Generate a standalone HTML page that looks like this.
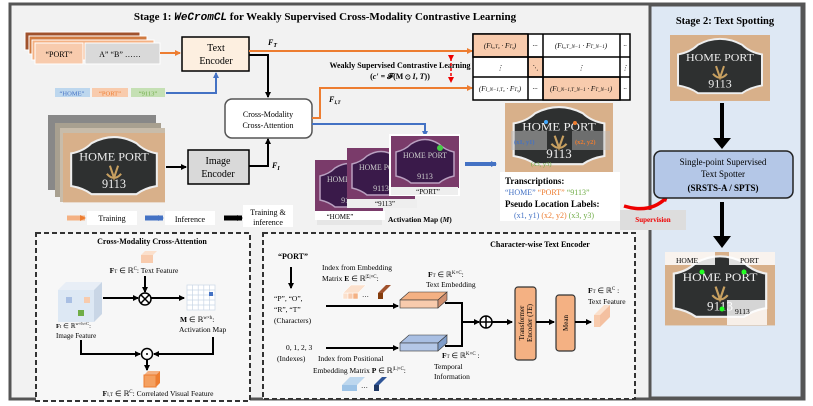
<!DOCTYPE html>
<html><head><meta charset="utf-8"><style>
html,body{margin:0;padding:0;background:#fff}
svg{display:block}
text{font-family:"Liberation Serif",serif}
</style></head><body>
<svg width="813" height="406" viewBox="0 0 813 406" xmlns="http://www.w3.org/2000/svg">
<defs>
<marker id="ab" markerWidth="6" markerHeight="6" refX="5" refY="3" orient="auto" markerUnits="userSpaceOnUse"><path d="M0,0L6,3L0,6z" fill="#000"/></marker>
<marker id="ao" markerWidth="6" markerHeight="6" refX="5" refY="3" orient="auto" markerUnits="userSpaceOnUse"><path d="M0,0L6,3L0,6z" fill="#ed7d31"/></marker>
<marker id="abl" markerWidth="6" markerHeight="6" refX="5" refY="3" orient="auto" markerUnits="userSpaceOnUse"><path d="M0,0L6,3L0,6z" fill="#4472c4"/></marker>
<marker id="ar" markerWidth="6" markerHeight="6" refX="3" refY="3" orient="auto" markerUnits="userSpaceOnUse"><path d="M0,0L6,3L0,6z" fill="#e00"/></marker>
<g id="sign">
<rect x="0" y="0" width="100" height="68" fill="#d8b08a"/>
<path d="M8,20 Q20,18 28,10 Q50,-2 72,10 Q80,18 92,20 L92,52 Q80,54 72,60 L28,60 Q20,54 8,52 Z" fill="#2e3030" stroke="#eee" stroke-width="2"/>
<text x="50" y="27" font-size="11" fill="#eee" text-anchor="middle" textLength="68" lengthAdjust="spacingAndGlyphs" font-family="Liberation Sans">HOME PORT</text>
<text x="50" y="54" font-size="12" fill="#eee" text-anchor="middle" font-family="Liberation Sans">9113</text>
<path d="M46,32 L50,44 L54,32 M43,40 Q50,48 57,40" stroke="#c8a060" stroke-width="2" fill="none"/>
</g>
<g id="amap">
<rect x="0" y="0" width="68" height="52" fill="#7a3b6a"/>
<path d="M5,16 Q14,14 20,8 Q34,-1 48,8 Q54,14 63,16 L63,40 Q54,42 48,47 L20,47 Q14,42 5,40 Z" fill="#3a1a4a" stroke="#b9a0c0" stroke-width="1.5"/>
<text x="34" y="22" font-size="8" fill="#ccc" text-anchor="middle" textLength="44" lengthAdjust="spacingAndGlyphs" font-family="Liberation Sans">HOME PORT</text>
<text x="34" y="43" font-size="8" fill="#ccc" text-anchor="middle" font-family="Liberation Sans">9113</text>
</g>
</defs>
<rect x="10" y="4" width="794" height="395" fill="#f2f2f2" stroke="#555" stroke-width="3"/>
<rect x="650" y="5" width="152" height="393" fill="#dee8f4" stroke="#555" stroke-width="3"/>
<text x="325" y="20" font-size="11" font-weight="bold" text-anchor="middle">Stage 1: <tspan font-style="italic" font-family="Liberation Mono">WeCromCL</tspan> for Weakly Supervised Cross-Modality Contrastive Learning</text>
<text x="725" y="24" font-size="10.5" font-weight="bold" text-anchor="middle">Stage 2: Text Spotting</text>

<rect x="25" y="32" width="115" height="18" fill="#a0522d" stroke="#fff"/>
<rect x="29" y="36" width="118" height="18" fill="#d07a40" stroke="#fff"/>
<rect x="32" y="40" width="122" height="20" fill="#f4b183" stroke="#fff"/>
<rect x="35" y="43" width="48" height="21" fill="#f8cbad" stroke="#fff"/>
<rect x="85" y="43" width="75" height="21" fill="#d9d9d9" stroke="#fff"/>
<text x="59" y="57" font-size="8" text-anchor="middle">“PORT”</text>
<text x="120" y="57" font-size="8" text-anchor="middle">A”  “B”  ……</text>
<line x1="160" y1="53" x2="180" y2="53" stroke="#ed7d31" stroke-width="2" marker-end="url(#ao)"/>
<rect x="182" y="37" width="67" height="34" fill="#fdefe0" stroke="#000" stroke-width="1.5"/>
<text x="216" y="51" font-size="10" text-anchor="middle">Text</text>
<text x="216" y="64" font-size="10" text-anchor="middle">Encoder</text>
<text x="268" y="45" font-size="8" font-weight="bold" font-style="italic">F<tspan font-size="6" dy="2">T</tspan></text>
<line x1="249" y1="51" x2="472" y2="51" stroke="#ed7d31" stroke-width="2" marker-end="url(#ao)"/>
<polyline points="249,55 268,55 268,97" fill="none" stroke="#000" stroke-width="2" marker-end="url(#ab)"/>
<rect x="55" y="88" width="35" height="9" fill="#bdd7ee"/><text x="72" y="95.5" font-size="6.5" fill="#4472c4" text-anchor="middle">“HOME”</text>
<rect x="92" y="88" width="36" height="9" fill="#f8cbad"/><text x="110" y="95.5" font-size="6.5" fill="#ed7d31" text-anchor="middle">“PORT”</text>
<rect x="131" y="88" width="34" height="9" fill="#c5e0b4"/><text x="148" y="95.5" font-size="6.5" fill="#70ad47" text-anchor="middle">“9113”</text>
<polyline points="166,93 216,93 216,73" fill="none" stroke="#4472c4" stroke-width="2" marker-end="url(#abl)"/>
<text x="400" y="68" font-size="8" font-weight="bold" text-anchor="middle">Weakly Supervised Contrastive Learning</text>
<text x="400" y="79" font-size="8" font-weight="bold" text-anchor="middle">(<tspan font-style="italic">c′</tspan> = 𝓕(M ⊙ <tspan font-style="italic">I</tspan>, <tspan font-style="italic">T</tspan>))</text>
<line x1="451" y1="58" x2="451" y2="80" stroke="#e00" stroke-width="1.5" stroke-dasharray="3,2" marker-end="url(#ar)" marker-start="url(#ar)"/>
<rect x="225" y="99" width="87" height="39" rx="7" fill="#fff" stroke="#555" stroke-width="1.5"/>
<text x="268" y="117" font-size="8" text-anchor="middle">Cross-Modality</text>
<text x="268" y="128" font-size="8" text-anchor="middle">Cross-Attention</text>
<polyline points="312,118 320,118 320,88 472,88" fill="none" stroke="#ed7d31" stroke-width="2" marker-end="url(#ao)"/>
<text x="329" y="102" font-size="8" font-weight="bold" font-style="italic">F<tspan font-size="5" dy="2">I,T</tspan></text>
<polyline points="312,124 425,124 425,136" fill="none" stroke="#4472c4" stroke-width="2" marker-end="url(#abl)"/>
<rect x="48" y="115" width="108" height="75" fill="#888"/>
<rect x="55" y="123" width="106" height="74" fill="#a8a090"/>
<rect x="60" y="128" width="105" height="74" fill="#c8bcaa"/>
<use href="#sign" transform="translate(63,133) scale(1.02)"/>
<line x1="166" y1="167" x2="186" y2="167" stroke="#000" stroke-width="2" marker-end="url(#ab)"/>
<rect x="188" y="150" width="61" height="34" fill="#d9d9d9" stroke="#000" stroke-width="1.5"/>
<text x="218" y="164" font-size="10" text-anchor="middle">Image</text>
<text x="218" y="177" font-size="10" text-anchor="middle">Encoder</text>
<polyline points="249,166 268,166 268,139" fill="none" stroke="#000" stroke-width="2" marker-end="url(#ab)"/>
<text x="272" y="168" font-size="8" font-weight="bold" font-style="italic">F<tspan font-size="6" dy="2">I</tspan></text>
<rect x="317" y="165" width="65" height="60" fill="#ddd" opacity=".6"/>
<use href="#amap" transform="translate(315,160)"/>
<rect x="315" y="211" width="70" height="9" fill="#fff"/><text x="340" y="219" font-size="7" text-anchor="middle">“HOME”</text>
<use href="#amap" transform="translate(347,148)"/>
<rect x="347" y="199" width="70" height="9" fill="#eee"/><text x="385" y="206" font-size="7" text-anchor="middle">“9113”</text>
<rect x="389" y="134" width="71" height="62" fill="#fff"/>
<use href="#amap" transform="translate(391,136)"/>
<rect x="391" y="187" width="67" height="8" fill="#eee"/><text x="428" y="194" font-size="7" text-anchor="middle">“PORT”</text>
<circle cx="440" cy="148" r="3" fill="#4c4"/>
<text x="388" y="222" font-size="7.5" font-weight="bold">Activation Map (<tspan font-style="italic">M</tspan>)</text>
<line x1="465" y1="164" x2="496" y2="164" stroke="#4472c4" stroke-width="4" marker-end="url(#abl)"/>
<g stroke="#000" stroke-width="1.5">
<rect x="473" y="34" width="157" height="66" fill="#fff"/>
<rect x="473" y="34" width="55" height="23" fill="#f8cbad"/>
<rect x="528" y="57" width="15" height="20" fill="#f8cbad"/>
<rect x="543" y="77" width="77" height="23" fill="#f8cbad"/>
<line x1="473" y1="57" x2="630" y2="57"/><line x1="473" y1="77" x2="630" y2="77"/>
<line x1="528" y1="34" x2="528" y2="100"/><line x1="543" y1="34" x2="543" y2="100"/><line x1="620" y1="34" x2="620" y2="100"/>
</g>
<g font-size="7" text-anchor="middle" font-style="italic">
<text x="500" y="48">(F<tspan font-size="5">I₀,T₀</tspan> · F<tspan font-size="5">T₀</tspan>)</text>
<text x="535" y="48">···</text>
<text x="581" y="48">(F<tspan font-size="5">I₀,T_N−1</tspan> · F<tspan font-size="5">T_N−1</tspan>)</text>
<text x="625" y="48">··</text>
<text x="500" y="70">⋮</text><text x="535" y="70">⋱</text><text x="581" y="70">⋮</text><text x="625" y="70">⋮</text>
<text x="500" y="91">(F<tspan font-size="5">I_N−1,T₀</tspan> · F<tspan font-size="5">T₀</tspan>)</text>
<text x="535" y="91">···</text>
<text x="581" y="91">(F<tspan font-size="5">I_N−1,T_N−1</tspan> · F<tspan font-size="5">T_N−1</tspan>)</text>
<text x="625" y="91">··</text>
</g>
<use href="#sign" transform="translate(505,103) scale(1.08,1.02)"/>
<rect x="511" y="131" width="36" height="19" fill="#bbb" opacity=".55"/>
<rect x="572" y="131" width="38" height="19" fill="#bbb" opacity=".45"/>
<text x="514" y="144" font-size="6.5" fill="#4472c4" font-weight="bold">(x1, y1)</text>
<text x="575" y="144" font-size="6.5" fill="#ed7d31" font-weight="bold">(x2, y2)</text>
<text x="531" y="166" font-size="6.5" fill="#70ad47">(x3, y3)</text>
<circle cx="546" cy="122" r="2" fill="#4af"/><circle cx="575" cy="123" r="2" fill="#ed7d31"/>
<rect x="500" y="172" width="120" height="49" fill="#fff"/>
<text x="505" y="184" font-size="9" font-weight="bold">Transcriptions:</text>
<text x="505" y="195" font-size="8"><tspan fill="#4472c4">“HOME”</tspan>  <tspan fill="#ed7d31">“PORT”</tspan>  <tspan fill="#70ad47">“9113”</tspan></text>
<text x="505" y="207" font-size="9" font-weight="bold">Pseudo Location Labels:</text>
<text x="514" y="218" font-size="8"><tspan fill="#4472c4">(x1, y1)</tspan>  <tspan fill="#ed7d31">(x2, y2)</tspan>  <tspan fill="#70ad47">(x3, y3)</tspan></text>
<rect x="620" y="210" width="66" height="20" fill="#ddd"/>
<text x="653" y="222" font-size="7" font-weight="bold" fill="#e00" text-anchor="middle">Supervision</text>
<path d="M624,206 Q650,214 666,198" fill="none" stroke="#e00" stroke-width="3.5" marker-end="url(#ar)"/>
<line x1="67" y1="218" x2="85" y2="218" stroke="#f4b183" stroke-width="5" marker-end="url(#ao)"/>
<rect x="87" y="211" width="50" height="14" fill="#fff"/><text x="112" y="221" font-size="8" text-anchor="middle">Training</text>
<line x1="145" y1="218" x2="163" y2="218" stroke="#4472c4" stroke-width="5" marker-end="url(#abl)"/>
<rect x="165" y="211" width="50" height="14" fill="#fff"/><text x="190" y="222" font-size="8" text-anchor="middle">Inference</text>
<line x1="224" y1="218" x2="242" y2="218" stroke="#000" stroke-width="5" marker-end="url(#ab)"/>
<rect x="243" y="205" width="50" height="22" fill="#fff"/><text x="268" y="215" font-size="8" text-anchor="middle">Training &amp;</text><text x="268" y="225" font-size="8" text-anchor="middle">inference</text>
<use href="#sign" transform="translate(670,35) scale(1,0.97)"/>
<line x1="722" y1="103" x2="722" y2="140" stroke="#000" stroke-width="4"/><path d="M713,138 L731,138 L722,149z"/>
<rect x="654" y="151" width="139" height="47" rx="7" fill="#b4c7e7" stroke="#222" stroke-width="1.5"/>
<text x="723" y="165" font-size="9" text-anchor="middle">Single-point Supervised</text>
<text x="723" y="177" font-size="9" text-anchor="middle">Text Spotter</text>
<text x="723" y="191" font-size="9" font-weight="bold" text-anchor="middle">(SRSTS-A / SPTS)</text>
<line x1="722" y1="202" x2="722" y2="238" stroke="#000" stroke-width="4"/><path d="M713,236 L731,236 L722,248z"/>
<use href="#sign" transform="translate(665,252) scale(1.1,1.08)"/>
<rect x="665" y="252" width="50" height="13" fill="#fff" opacity=".85"/>
<rect x="729" y="252" width="46" height="13" fill="#fff" opacity=".85"/>
<rect x="727" y="300" width="40" height="25" fill="#fff" opacity=".8"/>
<text x="676" y="263" font-size="7.5">HOME</text><text x="740" y="263" font-size="7.5">PORT</text><text x="735" y="314" font-size="7.5">9113</text>
<circle cx="702" cy="272" r="2.5" fill="#2f2"/><circle cx="744" cy="272" r="2.5" fill="#2f2"/><circle cx="722" cy="309" r="2.5" fill="#2f2"/>

<rect x="36" y="233" width="214" height="168" fill="#f7f7f7" stroke="#333" stroke-width="2" stroke-dasharray="5,3"/>
<text x="152" y="244" font-size="8" font-weight="bold" text-anchor="middle">Cross-Modality Cross-Attention</text>
<path d="M141,255 l12,0 l4,-4 l-12,0z" fill="#fbe0cc"/><rect x="141" y="255" width="12" height="8" fill="#f8cbad"/>
<text x="144" y="273" font-size="7.5" text-anchor="middle"><tspan font-weight="bold">F</tspan><tspan font-size="5">T</tspan> ∈ ℝ<tspan font-size="5" dy="-3">C</tspan><tspan dy="3">: Text Feature</tspan></text>
<line x1="145" y1="276" x2="145" y2="292" stroke="#000" stroke-width="2" marker-end="url(#ab)"/>
<path d="M58,290 l36,0 l8,-8 l-36,0z" fill="#e8eef6"/><rect x="58" y="290" width="36" height="32" fill="#dde8f4"/><path d="M94,290 l8,-8 l0,32 l-8,8z" fill="#c9d6e6"/>
<rect x="66" y="297" width="6" height="6" fill="#a9bfe3"/><rect x="84" y="297" width="6" height="6" fill="#f8cbad"/><rect x="78" y="310" width="6" height="6" fill="#70ad47"/>
<line x1="103" y1="298" x2="138" y2="298" stroke="#000" stroke-width="2" marker-end="url(#ab)"/>
<circle cx="145" cy="299" r="6" fill="#fff" stroke="#000" stroke-width="1.5"/><path d="M141,295 l8,8 M149,295 l-8,8" stroke="#000" stroke-width="1.5"/>
<line x1="151" y1="298" x2="184" y2="298" stroke="#000" stroke-width="2" marker-end="url(#ab)"/>
<g stroke="#c9d6e6" stroke-width="0.7" fill="none"><rect x="187" y="285" width="28" height="25" fill="#fff"/>
<path d="M192.6,285v25M198.2,285v25M203.8,285v25M209.4,285v25M187,290h28M187,295h28M187,300h28M187,305h28"/></g>
<rect x="209" y="292" width="4" height="4" fill="#4472c4"/>
<text x="180" y="322" font-size="7.5"><tspan font-weight="bold">M</tspan> ∈ ℝ<tspan font-size="5" dy="-3">w×h</tspan><tspan dy="3">:</tspan></text>
<text x="179" y="332" font-size="7.5">Activation Map</text>
<text x="56" y="328" font-size="6.5"><tspan font-weight="bold">F</tspan><tspan font-size="4.5">I</tspan> ∈ ℝ<tspan font-size="4.5" dy="-3">w×h×C</tspan><tspan dy="3">:</tspan></text>
<text x="56" y="338" font-size="7">Image Feature</text>
<polyline points="81,340 81,354 140,354" fill="none" stroke="#000" stroke-width="2" marker-end="url(#ab)"/>
<polyline points="213,337 213,354 154,354" fill="none" stroke="#000" stroke-width="2" marker-end="url(#ab)"/>
<circle cx="147" cy="354" r="5.5" fill="#fff" stroke="#000" stroke-width="1.5"/><circle cx="147" cy="354" r="1" fill="#000"/>
<line x1="147" y1="360" x2="147" y2="370" stroke="#000" stroke-width="2" marker-end="url(#ab)"/>
<path d="M144,375 l12,0 l4,-4 l-12,0z" fill="#f4b183"/><rect x="144" y="375" width="12" height="12" fill="#f4a060" stroke="#ed7d31"/><path d="M156,375 l4,-4 l0,12 l-4,4z" fill="#ed7d31"/>
<text x="158" y="396" font-size="7.5" text-anchor="middle"><tspan font-weight="bold">F</tspan><tspan font-size="5">I,T</tspan> ∈ ℝ<tspan font-size="5" dy="-3">C</tspan><tspan dy="3">: Correlated Visual Feature</tspan></text>

<rect x="263" y="233" width="372" height="166" fill="#f7f7f7" stroke="#333" stroke-width="2" stroke-dasharray="5,3"/>
<text x="540" y="247" font-size="8" font-weight="bold" text-anchor="middle">Character-wise Text Encoder</text>
<text x="278" y="259" font-size="8" font-weight="bold">“PORT”</text>
<line x1="291" y1="267" x2="291" y2="288" stroke="#000" stroke-width="2" marker-end="url(#ab)"/>
<text x="274" y="301" font-size="7.5">“P”, “O”,</text>
<text x="274" y="312" font-size="7.5">“R”, “T”</text>
<text x="274" y="323" font-size="7.5">(Characters)</text>
<text x="322" y="270" font-size="7.5">Index from Embedding</text>
<text x="322" y="281" font-size="7.5">Matrix <tspan font-weight="bold">E</tspan> ∈ ℝ<tspan font-size="5" dy="-3">|Σ|×C</tspan><tspan dy="3">:</tspan></text>
<g fill="#f8cbad" stroke="#fff" stroke-width=".5"><rect x="343" y="293" width="5" height="6" fill="#fbe0cc"/><rect x="348" y="293" width="5" height="6"/><rect x="353" y="293" width="5" height="6" fill="#f4b183"/><path d="M343,293 l15,0 l8,-8 l-15,0z" fill="#fbe0cc"/></g>
<text x="362" y="299" font-size="7">···</text>
<path d="M378,293 l5,0 l8,-8 l-5,0z" fill="#a0522d"/><rect x="378" y="293" width="5" height="6" fill="#843c0c"/>
<line x1="326" y1="306" x2="398" y2="306" stroke="#000" stroke-width="2" marker-end="url(#ab)"/>
<path d="M400,300 l38,0 l9,-8 l-38,0z" fill="#f4b183" stroke="#333" stroke-width=".6"/><rect x="400" y="300" width="38" height="8" fill="#f8cbad" stroke="#333" stroke-width=".6"/><path d="M438,300 l9,-8 l0,8 l-9,8z" fill="#d09070" stroke="#333" stroke-width=".6"/>
<text x="428" y="277" font-size="7.5"><tspan font-weight="bold">F</tspan><tspan font-size="5">T</tspan> ∈ ℝ<tspan font-size="5" dy="-3">K×C</tspan><tspan dy="3">:</tspan></text>
<text x="426" y="287" font-size="7.5">Text Embedding</text>
<text x="286" y="350" font-size="7.5">0, 1, 2, 3</text>
<text x="277" y="361" font-size="7.5">(Indexes)</text>
<line x1="326" y1="348" x2="398" y2="348" stroke="#000" stroke-width="2" marker-end="url(#ab)"/>
<path d="M400,343 l38,0 l9,-8 l-38,0z" fill="#a9bfe3" stroke="#333" stroke-width=".6"/><rect x="400" y="343" width="38" height="8" fill="#b4c7e7" stroke="#333" stroke-width=".6"/><path d="M438,343 l9,-8 l0,8 l-9,8z" fill="#7f9cc8" stroke="#333" stroke-width=".6"/>
<text x="318" y="361" font-size="7.5">Index from Positional</text>
<text x="313" y="373" font-size="7.5">Embedding Matrix <tspan font-weight="bold">P</tspan> ∈ ℝ<tspan font-size="5" dy="-3">|L|×C</tspan><tspan dy="3">:</tspan></text>
<path d="M342,385 l15,0 l8,-8 l-15,0z" fill="#bdd7ee"/><rect x="342" y="385" width="15" height="6" fill="#9dc3e6"/>
<text x="361" y="390" font-size="7">···</text>
<path d="M374,385 l5,0 l8,-8 l-5,0z" fill="#2f5597"/><rect x="374" y="385" width="5" height="6" fill="#1f3864"/>
<polyline points="445,303 462,303 462,346 445,346" fill="none" stroke="#000" stroke-width="2"/>
<line x1="462" y1="322" x2="479" y2="322" stroke="#000" stroke-width="2" marker-end="url(#ab)"/>
<circle cx="486" cy="322" r="6" fill="#fff" stroke="#000" stroke-width="1.5"/><path d="M480,322h12M486,316v12" stroke="#000" stroke-width="1.5"/>
<line x1="492" y1="322" x2="512" y2="322" stroke="#000" stroke-width="2" marker-end="url(#ab)"/>
<rect x="515" y="287" width="21" height="73" rx="3" fill="#f4b183" stroke="#333" stroke-width="1.2"/>
<text transform="translate(524,323) rotate(-90)" font-size="7" text-anchor="middle">Transformer</text>
<text transform="translate(532,323) rotate(-90)" font-size="7" text-anchor="middle">Encoder (<tspan font-style="italic">TE</tspan>)</text>
<line x1="536" y1="322" x2="554" y2="322" stroke="#000" stroke-width="2" marker-end="url(#ab)"/>
<rect x="556" y="295" width="19" height="56" rx="3" fill="#f4b183" stroke="#333" stroke-width="1.2"/>
<text transform="translate(568,323) rotate(-90)" font-size="7" text-anchor="middle">Mean</text>
<line x1="575" y1="322" x2="591" y2="322" stroke="#000" stroke-width="2" marker-end="url(#ab)"/>
<path d="M594,315 l6,0 l10,-10 l-6,0z" fill="#fbe0cc"/><rect x="594" y="315" width="6" height="12" fill="#f8cbad"/><path d="M600,315 l10,-10 l0,12 l-10,10z" fill="#f4c0a0"/>
<text x="588" y="293" font-size="7.5"><tspan font-weight="bold">F</tspan><tspan font-size="5">T</tspan> ∈ ℝ<tspan font-size="5" dy="-3">C</tspan><tspan dy="3"> :</tspan></text>
<text x="588" y="304" font-size="7.5">Text Feature</text>
<text x="442" y="358" font-size="7.5"><tspan font-weight="bold">F</tspan><tspan font-size="5">T</tspan> ∈ ℝ<tspan font-size="5" dy="-3">K×C</tspan><tspan dy="3"> :</tspan></text>
<text x="434" y="369" font-size="7.5">Temporal</text>
<text x="434" y="379" font-size="7.5">Information</text>
</svg>
</body></html>
